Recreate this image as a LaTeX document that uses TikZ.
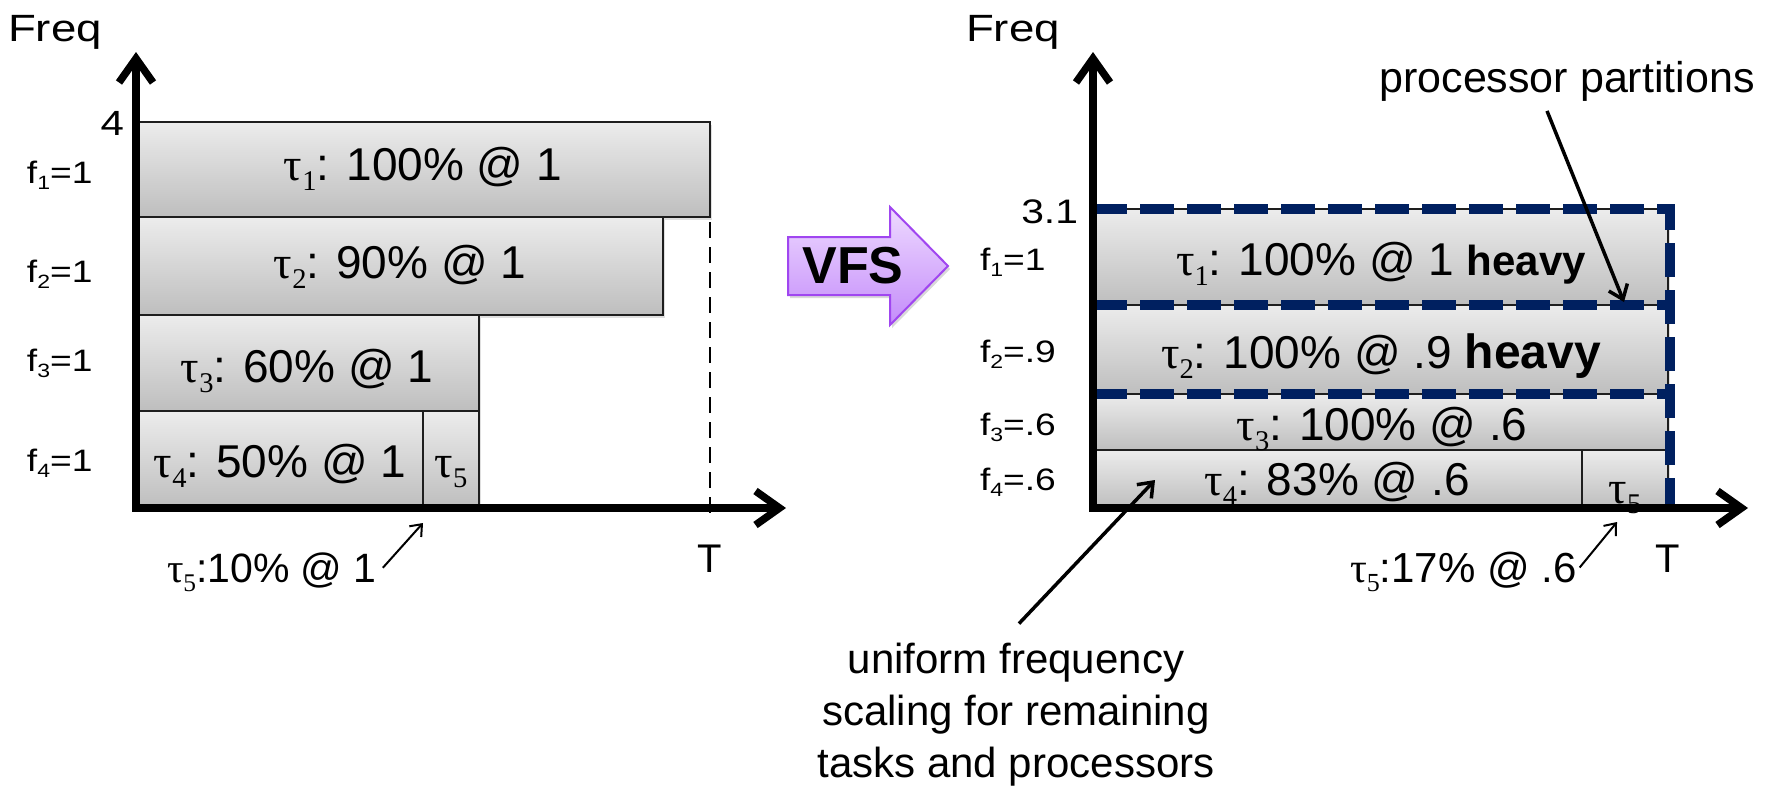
\documentclass[tikz,border=0pt]{standalone}
\usepackage{fontspec}
\setmainfont{Liberation Sans}
\newfontfamily\tfont{Liberation Serif}
\newfontfamily\wfont[FakeStretch=1.2]{Liberation Sans}
\usetikzlibrary{arrows.meta,shadows}
\newcommand\sbs[1]{\raisebox{-0.22em}{\scalebox{0.62}{#1}}}
\newcommand\tk[1]{{\tfont τ\sbs{#1}}}
\newcommand\fs[1]{\fontsize{#1}{#1}\selectfont}
\definecolor{boxtop}{RGB}{236,236,236}
\definecolor{boxbot}{RGB}{190,190,190}
\definecolor{navy}{RGB}{0,32,96}
\definecolor{vfstop}{RGB}{238,218,255}
\definecolor{vfsbot}{RGB}{196,140,250}
\definecolor{vfsline}{RGB}{160,70,240}
\begin{document}
\begin{tikzpicture}[x=1pt,y=-1pt,
  every node/.style={inner sep=0pt,outer sep=0pt},
  box/.style={draw={rgb,255:red,30;green,30;blue,30},line width=1.5pt,top color=boxtop,bottom color=boxbot,
    drop shadow={opacity=0.25,shadow xshift=1.5pt,shadow yshift=-3pt}},
  lbl/.style={font=\fs{46},anchor=base},
  flbl/.style={font=\wfont\fs{31},anchor=base west},
  axis/.style={line width=7.5pt,line join=miter,
    {Straight Barb[length=24pt,width=34pt]}-{Straight Barb[length=24pt,width=34pt]}},
  tdash/.style={line width=2.5pt,dash pattern=on 16pt off 9pt},
  bluedash/.style={draw=navy,line width=10pt,dash pattern=on 34pt off 13pt},
  thinarrow/.style={line width=2pt,-{Straight Barb[length=10pt,width=16pt]}},
  annarrow/.style={line width=3.5pt,-{Straight Barb[length=13pt,width=20pt]}},
  note/.style={font=\fs{42},anchor=base}]
\useasboundingbox (0,0) rectangle (1768,785);

% ---------- left chart ----------
\draw[tdash] (710,122) -- (710,521);
\draw[box] (136,122) rectangle (710,217);
\draw[box] (136,217) rectangle (663,315);
\draw[box] (136,315) rectangle (479,411);
\draw[box] (136,411) rectangle (423,508);
\draw[box] (423,411) rectangle (479,508);
\node[lbl] (L-t1) at (423,180) {\tk1: 100\% @ 1};
\node[lbl] (L-t2) at (400,278) {\tk2: 90\% @ 1};
\node[lbl] (L-t3) at (307,382) {\tk3: 60\% @ 1};
\node[lbl] (L-t4) at (280,477) {\tk4: 50\% @ 1};
\node[lbl] (L-t5) at (451,477) {\tk5};

\coordinate (L-y) at (136,52);
\coordinate (L-x) at (786,508);
\draw[axis] (L-y) |- (L-x);

\node[font=\wfont\fs{38},anchor=base] (L-freq) at (55,41) {Freq};
\node[font=\wfont\fs{35},anchor=base east] (L-4) at (124,135) {4};
\node[flbl] (L-f1) at (27,183) {f\sbs{1}=1};
\node[flbl] (L-f2) at (27,282) {f\sbs{2}=1};
\node[flbl] (L-f3) at (27,371) {f\sbs{3}=1};
\node[flbl] (L-f4) at (27,471) {f\sbs{4}=1};
\node[font=\fs{40},anchor=base] (L-T) at (710,572) {T};
\node[font=\fs{41},anchor=base west] (L-n5) at (167,582) {\tk5:10\% @ 1};
\coordinate (L-n5tip) at (423,523);
\draw[thinarrow] ([xshift=6pt,yshift=4pt]L-n5.east) -- (L-n5tip);

% ---------- VFS arrow ----------
\path[draw=vfsline,line width=2pt,top color=vfstop,bottom color=vfsbot,line join=miter,
  drop shadow={opacity=0.3,shadow xshift=2pt,shadow yshift=-3pt}]
  (788,237) -- (890,237) -- (890,207) -- (948,266) -- (890,325) -- (890,295) -- (788,295) -- cycle;
\node[font=\fs{52}\bfseries,anchor=base] (vfs) at (853,283) {VFS};

% ---------- right chart ----------
\draw[box] (1093,209) rectangle (1668,305);
\draw[box] (1093,305) rectangle (1668,394);
\draw[box] (1093,394) rectangle (1668,450);
\draw[box] (1093,450) rectangle (1582,508);
\draw[box] (1582,450) rectangle (1668,508);
\node[lbl] (R-t1) at (1381,275) {\tk1: 100\% @ 1 {\fs{42}\bfseries heavy}};
\node[lbl] (R-t2) at (1381,368) {\tk2: 100\% @ .9 {\fs{48}\bfseries heavy}};
\node[lbl] (R-t3) at (1382,440) {\tk3: 100\% @ .6};
\node[lbl] (R-t4) at (1337,495) {\tk4: 83\% @ .6};
\node[lbl] (R-t5) at (1625,503) {\tk5};

\draw[bluedash] (1093,209) -| (1670,508);
\draw[bluedash] (1093,305) -- (1670,305);
\draw[bluedash] (1093,394) -- (1670,394);

\coordinate (R-y) at (1093,52);
\coordinate (R-x) at (1748,508);
\draw[axis] (R-y) |- (R-x);

\node[font=\wfont\fs{38},anchor=base] (R-freq) at (1013,41) {Freq};
\node[font=\wfont\fs{34},anchor=base east] (R-31) at (1078,223) {3.1};
\node[flbl] (R-f1) at (980,270) {f\sbs{1}=1};
\node[flbl] (R-f2) at (980,362) {f\sbs{2}=.9};
\node[flbl] (R-f3) at (980,435) {f\sbs{3}=.6};
\node[flbl] (R-f4) at (980,490) {f\sbs{4}=.6};
\node[font=\fs{40},anchor=base] (R-T) at (1668,572) {T};
\node[font=\fs{42},anchor=base west] (R-n5) at (1350,582) {\tk5:17\% @ .6};
\coordinate (R-n5tip) at (1617,522);
\draw[thinarrow] ([xshift=3pt,yshift=4pt]R-n5.east) -- (R-n5tip);

\node[font=\fs{43},anchor=base] (R-pp) at (1567,92) {processor partitions};
\coordinate (R-pptip) at (1624,302);
\draw[annarrow] ([xshift=-20pt,yshift=-10pt]R-pp.south) -- (R-pptip);

\node[note] (A1) at (1016,673) {uniform frequency};
\node[note] (A2) at (1016,725) {scaling for remaining};
\node[note] (A3) at (1016,777) {tasks and processors};
\coordinate (A-tip) at (1155,480);
\draw[annarrow] ([xshift=3pt,yshift=19pt]A1.north) -- (A-tip);
\end{tikzpicture}
\end{document}
